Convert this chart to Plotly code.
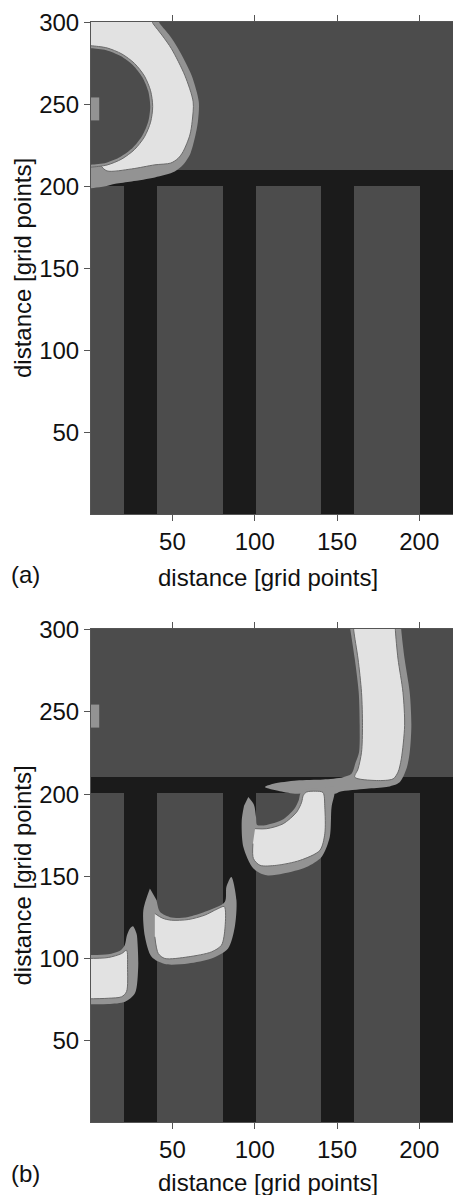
import plotly.graph_objects as go

# ---------------- data ----------------
TISSUE_X_EDGES = [0.5, 20.5, 40.5, 80.5, 100.5, 140.5, 160.5, 200.5, 220.5]
TISSUE_Y_EDGES = [0.5, 200.5, 210.5, 300.5]
TISSUE_ROWS = [
    [1, 0, 1, 0, 1, 0, 1, 0],
    [0, 0, 0, 0, 0, 0, 0, 0],
    [1, 1, 1, 1, 1, 1, 1, 1],
]
STIM_X_EDGES = [0.5, 5.5]
STIM_Y_EDGES = [240.5, 254.5]

A_REFRAC_X = [-3, 40.3, 42.4, 48.5, 53.5, 61.6, 66.0, 65.5, 64.0, 60.6, 56.5, 51.4, 39.3, 25.2, 15.3, 9.2, 2.1, -3]
A_REFRAC_Y = [303, 303, 299.4, 292.0, 284.2, 268.0, 251.8, 240.0, 231.6, 219.5, 213.4, 209.3, 205.7, 203.3, 201.9, 200.3, 199.3, 199.0]
A_EXCITED_X = [-3, 36.2, 38.3, 44.0, 49.4, 57.5, 62.6, 62.0, 60.6, 56.5, 53.5, 49.0, 39.3, 25.2, 10.2, 6.0, -3]
A_EXCITED_Y = [303, 303, 299.4, 292.0, 284.2, 268.0, 251.8, 240.0, 231.6, 221.5, 217.4, 214.5, 213.4, 210.9, 209.7, 213.5, 230.0]
A_RING_X = [-3, 0.5, 10.2, 19.25, 27.0, 33.0, 36.7, 38.0, 36.7, 33.0, 27.0, 19.25, 10.2, 0.5, -3]
A_RING_Y = [286.0, 286.0, 284.7, 281.0, 275.2, 267.5, 258.6, 249.0, 239.4, 230.5, 222.8, 217.0, 213.3, 212.0, 212.0]
A_CORE_X = [-3, 0.5, 9.8, 18.5, 26.0, 31.7, 35.3, 36.5, 35.3, 31.7, 26.0, 18.5, 9.8, 0.5, -3]
A_CORE_Y = [284.5, 284.5, 283.3, 279.7, 274.1, 266.75, 258.2, 249.0, 239.8, 231.25, 223.9, 218.3, 214.7, 213.5, 213.5]

B_TOP_REFRAC_X = [157.6, 158.2, 160.8, 163.2, 163.8, 163.4, 161.4, 158.8, 153.7, 141.6, 125.5, 111.3, 106.2, 115.3, 125.5, 136.0, 148.7, 151.7, 167.9, 180.0, 188.1, 192.2, 194.2, 195.2, 194.2, 191.1, 189.1, 188.9]
B_TOP_REFRAC_Y = [303, 299.4, 282.2, 261.9, 241.7, 225.5, 219.5, 212.4, 210.3, 208.9, 208.3, 206.3, 204.3, 201.8, 200.2, 200.8, 200.2, 201.5, 203.3, 204.3, 207.3, 215.4, 225.5, 241.7, 261.9, 282.2, 299.4, 303]
B_TOP_EXCITED_X = [160.0, 160.2, 162.8, 164.9, 165.5, 164.9, 162.8, 160.8, 174.0, 184.1, 187.1, 189.1, 191.1, 190.1, 187.1, 185.5, 185.4]
B_TOP_EXCITED_Y = [303, 299.4, 282.2, 261.9, 241.7, 225.5, 215.4, 210.3, 208.3, 209.3, 213.4, 221.5, 241.7, 261.9, 282.2, 299.4, 303]

B_MID_REFRAC_X = [96.1, 99.5, 100.8, 101.5, 107.3, 116.5, 124.0, 126.8, 127.8, 131.5, 140.0, 148.7, 148.5, 146.7, 145.6, 140.6, 131.5, 117.3, 107.3, 99.2, 93.1, 92.1, 93.5]
B_MID_REFRAC_Y = [198.2, 193.5, 186.0, 181.3, 181.3, 184.2, 191.0, 196.5, 200.5, 203.2, 203.8, 204.5, 200.2, 192.1, 174.0, 161.8, 155.7, 151.7, 150.6, 154.7, 167.8, 184.0, 193.0]
B_MID_EXCITED_X = [100.2, 107.3, 117.3, 125.5, 128.5, 129.5, 131.5, 137.0, 141.5, 142.6, 142.6, 139.6, 127.5, 113.3, 103.2, 99.2, 98.9]
B_MID_EXCITED_Y = [179.0, 179.0, 182.0, 189.1, 195.1, 199.2, 201.3, 201.8, 201.0, 192.1, 175.9, 165.8, 159.7, 156.7, 156.7, 160.8, 169.9]

B_LOW2_REFRAC_X = [36.3, 32.3, 33.3, 37.3, 45.4, 59.6, 73.7, 83.8, 87.9, 88.9, 85.8, 82.8, 81.8, 69.7, 59.6, 49.4, 42.4, 40.4]
B_LOW2_REFRAC_Y = [142.6, 129.4, 113.2, 101.0, 96.6, 97.0, 100.0, 106.1, 119.3, 135.5, 149.6, 143.6, 134.4, 128.4, 125.3, 124.9, 128.4, 135.5]
B_LOW2_EXCITED_X = [39.3, 44.0, 49.4, 59.6, 69.7, 77.0, 81.5, 82.0, 79.8, 73.7, 59.6, 45.4, 41.4, 39.3]
B_LOW2_EXCITED_Y = [127.4, 124.5, 123.3, 123.7, 126.4, 130.0, 131.6, 119.3, 108.1, 104.0, 101.0, 100.0, 103.0, 113.2]

B_LOW1_REFRAC_X = [-3, 11.0, 18.1, 21.0, 22.3, 24.2, 26.0, 28.2, 28.8, 29.2, 27.2, 21.2, 11.0, -3]
B_LOW1_REFRAC_Y = [102.2, 102.6, 104.7, 108.1, 114.0, 118.3, 119.6, 115.0, 109.1, 95.0, 78.8, 73.7, 72.3, 72.2]
B_LOW1_EXCITED_X = [-3, 11.0, 19.1, 22.1, 22.7, 22.1, 19.1, 11.0, -3]
B_LOW1_EXCITED_Y = [100.0, 100.6, 103.0, 105.0, 95.0, 79.8, 76.7, 75.8, 75.4]

X_TICKS = [50, 100, 150, 200]
Y_TICKS = [50, 100, 150, 200, 250, 300]
X_RANGE = [0.5, 220.5]
Y_RANGE = [0.5, 300.5]

BLACK = "#1b1b1b"
DARK = "#4c4c4c"
MID = "#939393"
LIGHT = "#e2e2e2"
EDGE = "#6a6a6a"
FONT = "Liberation Sans, Arial, Helvetica, sans-serif"
COLORSCALE = [[0.0, BLACK], [1 / 3, DARK], [2 / 3, MID], [1.0, LIGHT]]

fig = go.Figure()


def add_map(xe, ye, z, xa, ya):
    fig.add_trace(go.Heatmap(x=xe, y=ye, z=z, zmin=0, zmax=3, colorscale=COLORSCALE,
                             showscale=False, hoverinfo="skip", xaxis=xa, yaxis=ya))


def add_poly(xs, ys, color, xa, ya, edge=None, smooth=True):
    fig.add_trace(go.Scatter(
        x=xs, y=ys, mode="lines", fill="toself", fillcolor=color,
        line=dict(color=edge if edge else color, width=1 if edge else 0,
                  shape="spline" if smooth else "linear", smoothing=0.8),
        hoverinfo="skip", xaxis=xa, yaxis=ya))


for xa, ya in [("x", "y"), ("x2", "y2")]:
    add_map(TISSUE_X_EDGES, TISSUE_Y_EDGES, TISSUE_ROWS, xa, ya)

stim_x = [STIM_X_EDGES[0], STIM_X_EDGES[1], STIM_X_EDGES[1], STIM_X_EDGES[0]]
stim_y = [STIM_Y_EDGES[0], STIM_Y_EDGES[0], STIM_Y_EDGES[1], STIM_Y_EDGES[1]]

add_poly(A_REFRAC_X, A_REFRAC_Y, MID, "x", "y")
add_poly(A_EXCITED_X, A_EXCITED_Y, LIGHT, "x", "y", EDGE)
add_poly(A_RING_X, A_RING_Y, MID, "x", "y", EDGE)
add_poly(A_CORE_X, A_CORE_Y, DARK, "x", "y")
add_poly(stim_x, stim_y, MID, "x", "y", smooth=False)

add_poly(B_TOP_REFRAC_X, B_TOP_REFRAC_Y, MID, "x2", "y2")
add_poly(B_MID_REFRAC_X, B_MID_REFRAC_Y, MID, "x2", "y2")
add_poly(B_LOW2_REFRAC_X, B_LOW2_REFRAC_Y, MID, "x2", "y2")
add_poly(B_LOW1_REFRAC_X, B_LOW1_REFRAC_Y, MID, "x2", "y2")
add_poly(B_TOP_EXCITED_X, B_TOP_EXCITED_Y, LIGHT, "x2", "y2", EDGE)
add_poly(B_MID_EXCITED_X, B_MID_EXCITED_Y, LIGHT, "x2", "y2", EDGE)
add_poly(B_LOW2_EXCITED_X, B_LOW2_EXCITED_Y, LIGHT, "x2", "y2", EDGE)
add_poly(B_LOW1_EXCITED_X, B_LOW1_EXCITED_Y, LIGHT, "x2", "y2", EDGE)
add_poly(stim_x, stim_y, MID, "x2", "y2", smooth=False)

W, H = 453, 1195
ML = 91
axis_common = dict(showgrid=False, zeroline=False, ticks="outside", ticklen=6,
                   tickcolor="#555555", showline=True, linecolor="#555555",
                   linewidth=1, mirror="ticks", automargin=False,
                   tickfont=dict(family=FONT, size=24, color="#111111"))

fig.update_layout(
    width=W, height=H, autosize=False,
    margin=dict(l=ML, r=0, t=0, b=0, pad=0, autoexpand=False),
    paper_bgcolor="white", plot_bgcolor="white", showlegend=False,
    xaxis=dict(domain=[0, 1], anchor="y", range=X_RANGE, tickvals=X_TICKS, **axis_common),
    yaxis=dict(domain=[1 - 514 / H, 1 - 22 / H], anchor="x", range=Y_RANGE, tickvals=Y_TICKS, **axis_common),
    xaxis2=dict(domain=[0, 1], anchor="y2", range=X_RANGE, tickvals=X_TICKS, **axis_common),
    yaxis2=dict(domain=[1 - 1122 / H, 1 - 629 / H], anchor="x2", range=Y_RANGE, tickvals=Y_TICKS, **axis_common),
)

PW = W - ML


def px_x(p):
    return (p - ML) / PW


def px_y(p):
    return 1 - p / H


TITLE = "distance [grid points]"
ann = []
for yc_title, yc_lab, lab, yc_mid in [(577, 574, "(a)", 268), (1182, 1173, "(b)", 875.5)]:
    ann.append(dict(text=TITLE, x=px_x(268), y=px_y(yc_title), xref="paper", yref="paper",
                    xanchor="center", yanchor="middle", showarrow=False,
                    font=dict(family=FONT, size=24, color="#111111")))
    ann.append(dict(text=lab, x=px_x(25), y=px_y(yc_lab), xref="paper", yref="paper",
                    xanchor="center", yanchor="middle", showarrow=False,
                    font=dict(family=FONT, size=24, color="#111111")))
    ann.append(dict(text=TITLE, x=px_x(22), y=px_y(yc_mid), xref="paper", yref="paper",
                    xanchor="center", yanchor="middle", showarrow=False, textangle=-90,
                    font=dict(family=FONT, size=24, color="#111111")))
fig.update_layout(annotations=ann)

# the page is shown in a window exactly the size of the figure: drop the default body margin
fig.write_html("out.html", post_script="document.body.style.margin='0';")
